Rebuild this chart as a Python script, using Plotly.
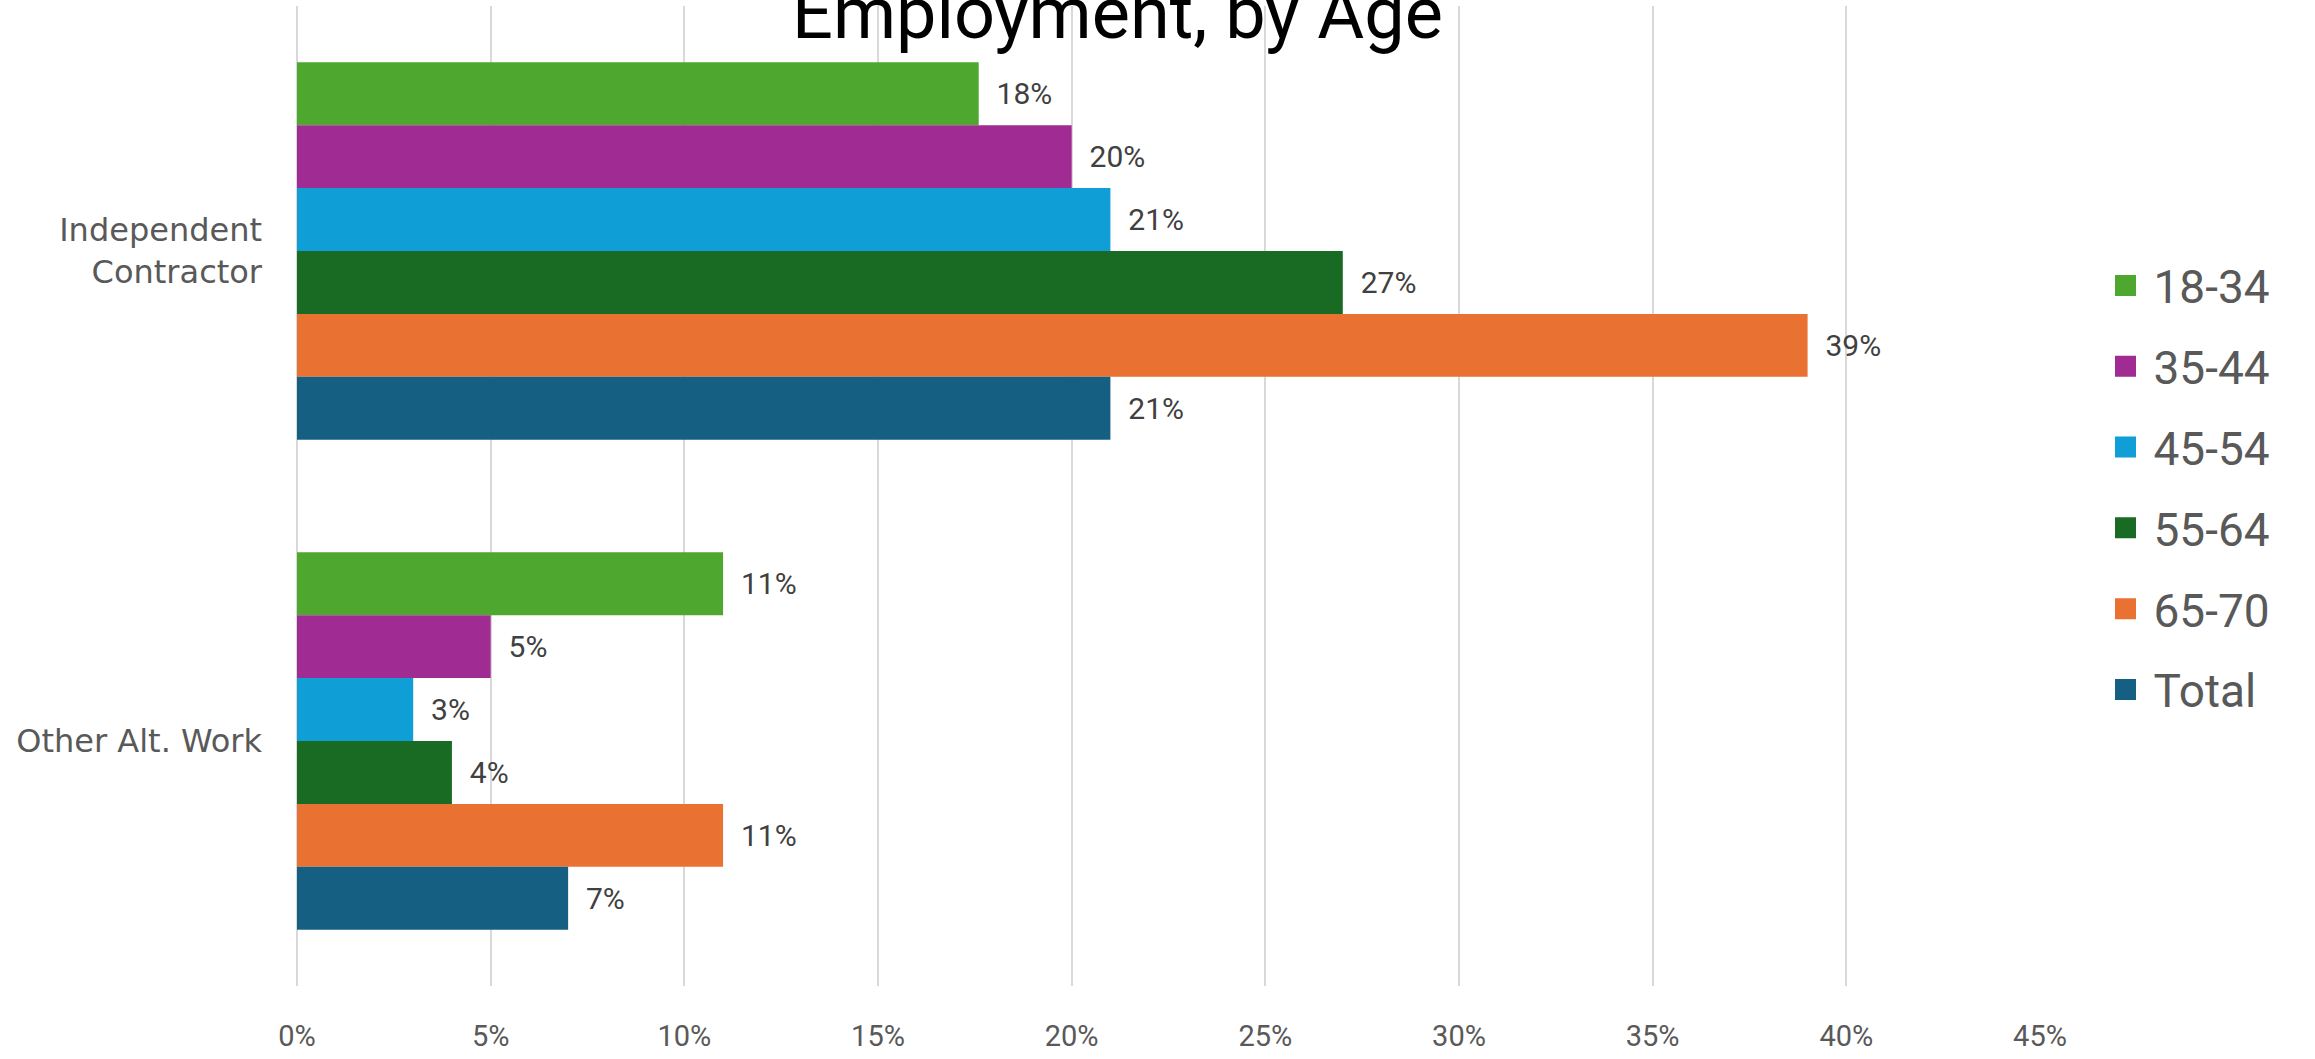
import plotly.graph_objects as go

categories = ["Independent<br>Contractor", "Other Alt. Work"]
series_names = ["18-34", "35-44", "45-54", "55-64", "65-70", "Total"]
series_values = {
    "18-34": [0.176, 0.11],
    "35-44": [0.20, 0.05],
    "45-54": [0.21, 0.03],
    "55-64": [0.27, 0.04],
    "65-70": [0.39, 0.11],
    "Total": [0.21, 0.07],
}
colors = ["#4EA72E", "#A02B93", "#0F9ED5", "#196B24", "#E97132", "#156082"]
x_ticks = [0, 0.05, 0.10, 0.15, 0.20, 0.25, 0.30, 0.35, 0.40, 0.45]
title_text = "Employment, by Age"

FONT = "Roboto"
GRAY = "#595959"

fig = go.Figure()
for name, col in zip(series_names, colors):
    fig.add_trace(go.Bar(
        name=name, y=categories, x=series_values[name], orientation="h",
        marker=dict(color=col, line=dict(width=0)),
        texttemplate="\u00a0\u00a0%{x:.0%}", textposition="outside",
        textfont=dict(family=FONT, size=30, color="#404040"),
        cliponaxis=False, legendgroup=name, showlegend=False,
    ))
    fig.add_trace(go.Scatter(
        name=name, x=[None], y=[None], mode="markers",
        marker=dict(symbol="square", size=26, color=col, line=dict(color=col, width=5)),
        legendgroup=name, showlegend=True, hoverinfo="skip",
    ))

fig.update_layout(
    width=2315, height=1059,
    margin=dict(l=297, r=275, t=6, b=53),
    paper_bgcolor="white", plot_bgcolor="white",
    barmode="group", bargap=0.23, bargroupgap=0,
    font=dict(family=FONT, color=GRAY),
    xaxis=dict(
        range=[0, 0.45], tickvals=x_ticks, tickformat=".0%",
        showgrid=True, gridcolor="#D9D9D9", gridwidth=1.5,
        zeroline=True, zerolinecolor="#D9D9D9", zerolinewidth=1.5,
        showline=False, ticks="", ticklabelstandoff=30,
        tickfont=dict(family=FONT, size=29, color=GRAY),
    ),
    yaxis=dict(
        autorange="reversed", showgrid=False, zeroline=False, showline=False,
        ticks="", ticklabelstandoff=34,
        tickfont=dict(family="DejaVu Sans", size=32, color=GRAY),
    ),
    legend=dict(
        x=1.033, xanchor="left", y=0.752, yanchor="top",
        font=dict(family=FONT, size=46, color=GRAY),
        itemwidth=46, tracegroupgap=18, traceorder="grouped",
        bgcolor="rgba(0,0,0,0)",
    ),
    annotations=[dict(
        text=title_text, xref="paper", yref="paper", x=0.4705, y=0.992,
        xanchor="center", yanchor="middle", showarrow=False,
        font=dict(family=FONT, size=72, color="#000000"),
    )],
)

fig.write_html("out.html", config={"displayModeBar": False},
               post_script="document.body.style.margin='0';")
